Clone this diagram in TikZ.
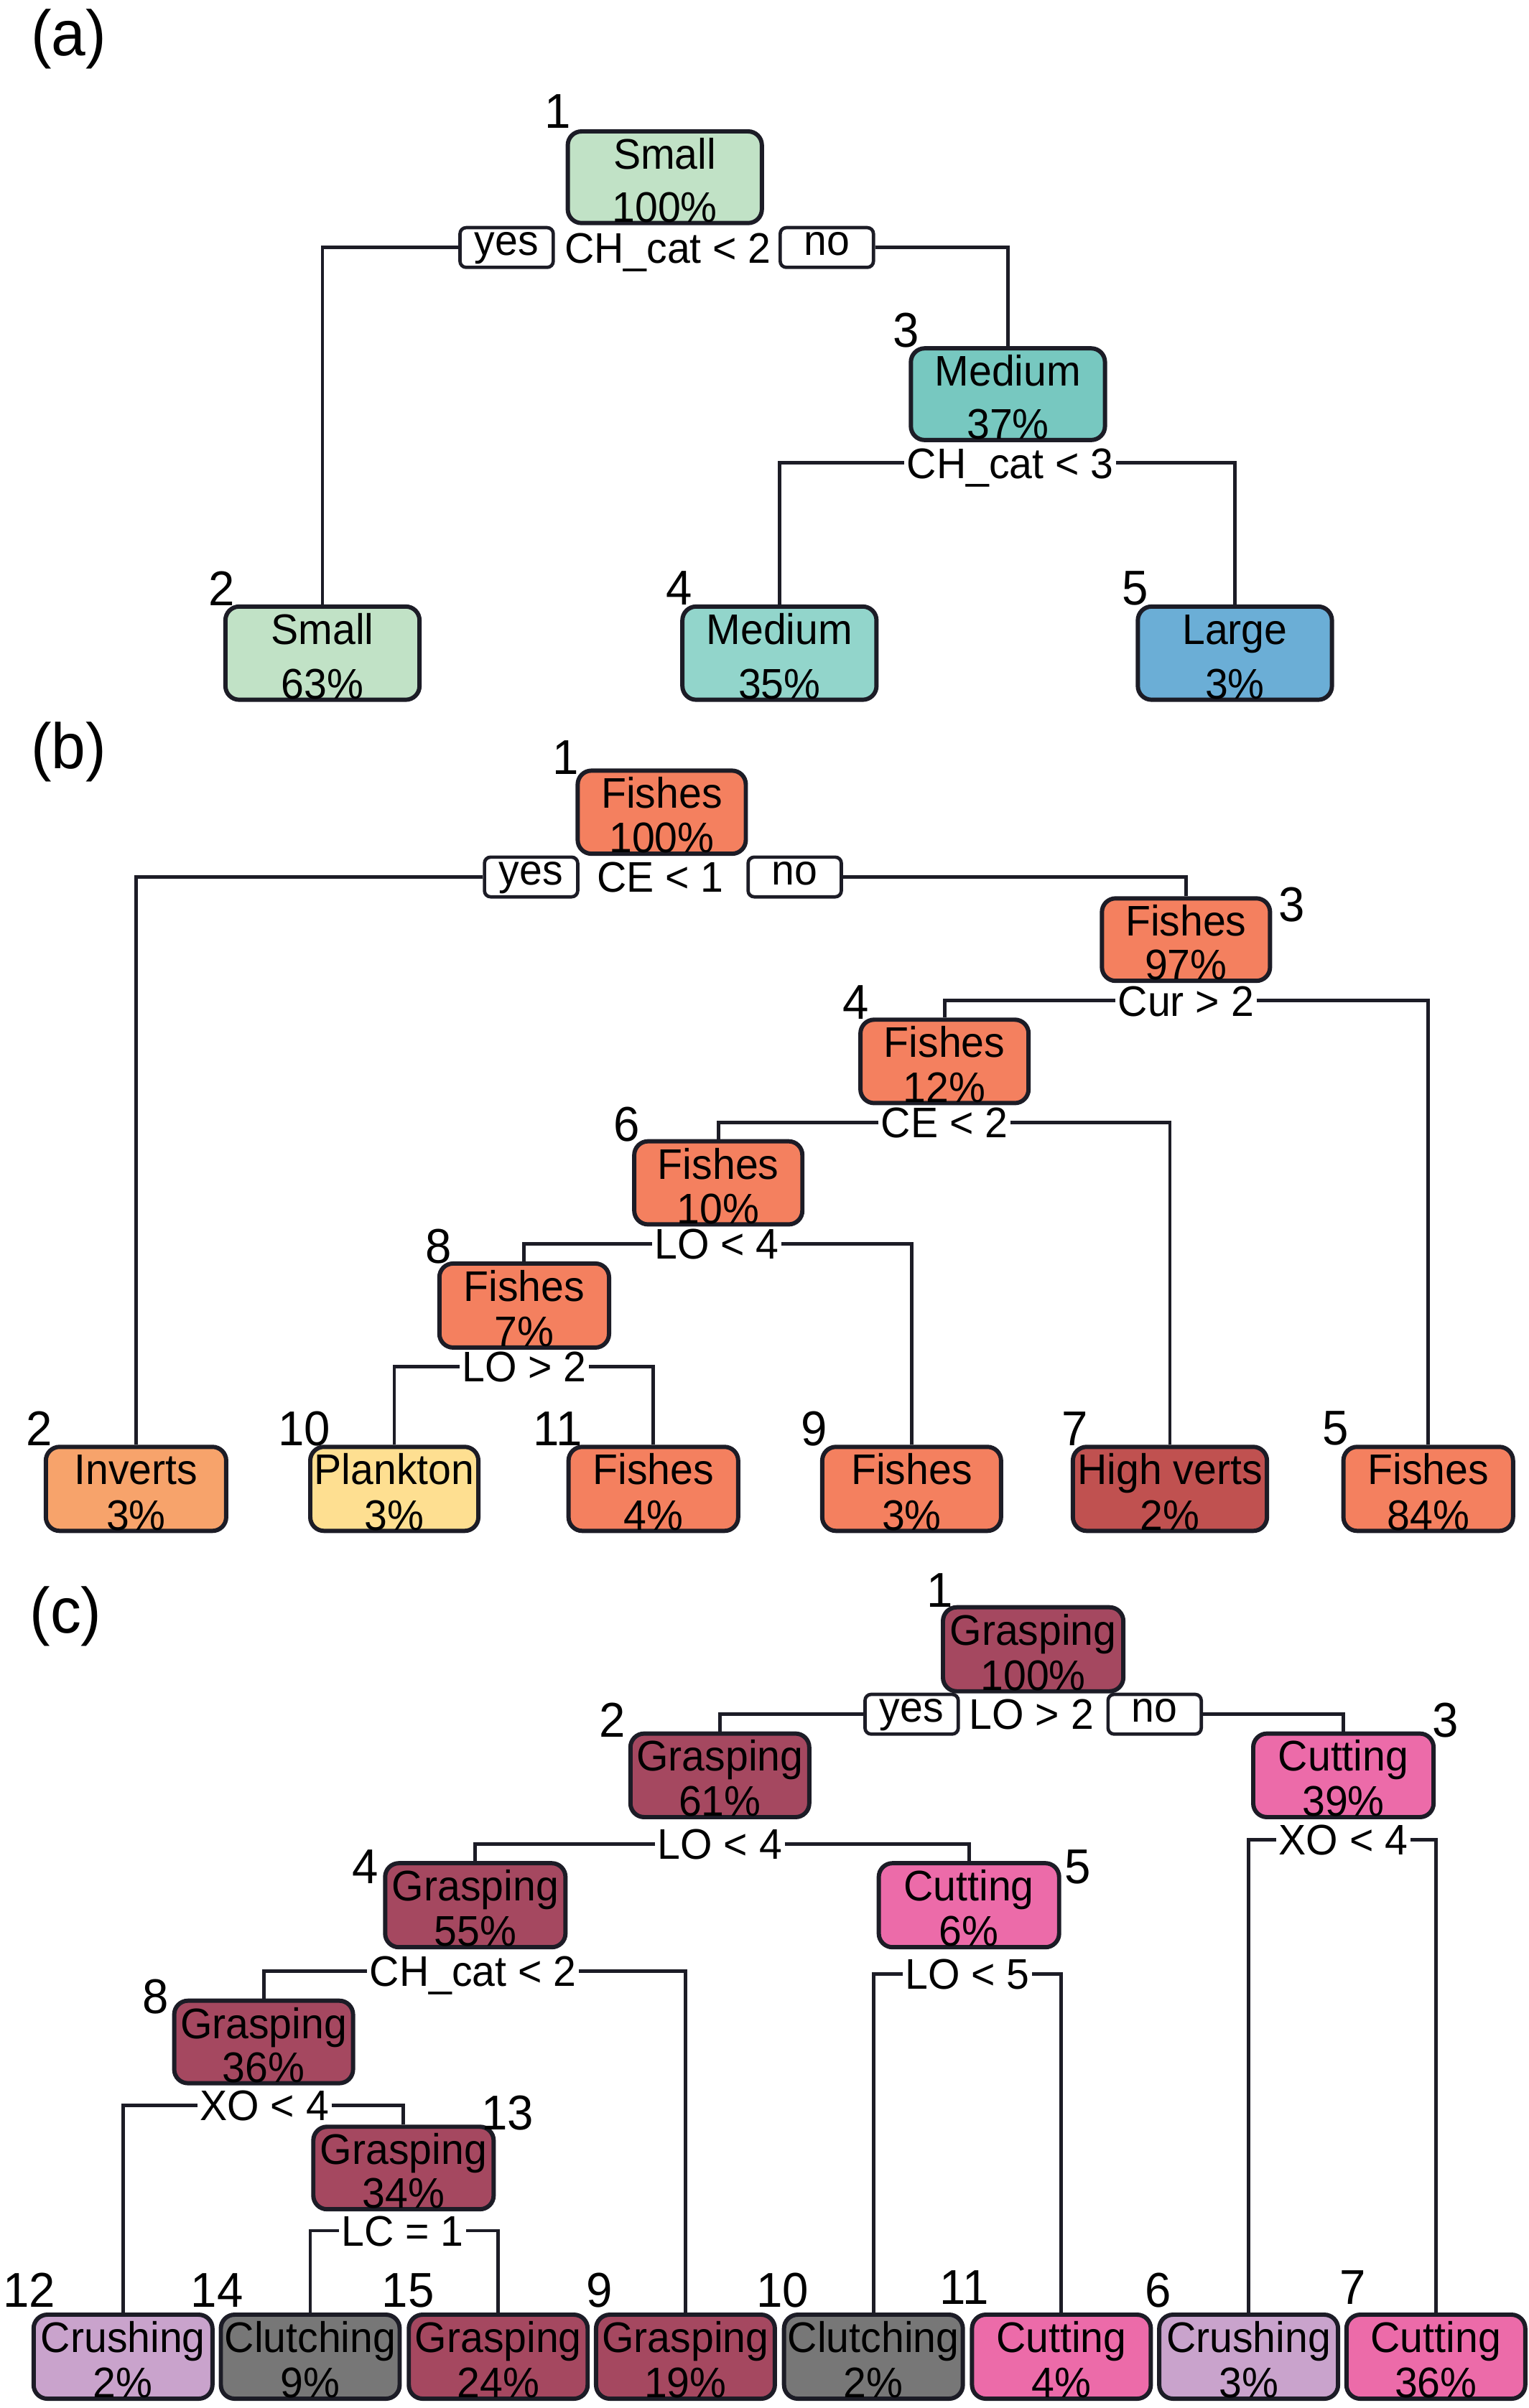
\documentclass[tikz,border=0pt]{standalone}
\usepackage{fontspec}
\newfontfamily\arl[FakeStretch=0.96]{Liberation Sans}
\definecolor{bcol}{HTML}{1C1C26}
\definecolor{cSmall}{HTML}{C1E2C6}
\definecolor{cMedA}{HTML}{77C8C0}
\definecolor{cMedB}{HTML}{92D5CB}
\definecolor{cLarge}{HTML}{6BAED6}
\definecolor{cFish}{HTML}{F4805F}
\definecolor{cInv}{HTML}{F7A36B}
\definecolor{cPlank}{HTML}{FEDF91}
\definecolor{cHigh}{HTML}{C05150}
\definecolor{cGrasp}{HTML}{A54860}
\definecolor{cCut}{HTML}{EC6BA9}
\definecolor{cCrush}{HTML}{C9A3CC}
\definecolor{cClutch}{HTML}{777777}
\tikzset{
 tbox/.style={draw=bcol, line width=2.8pt, rounded corners=9pt, inner sep=0pt},
 boxtxt/.style={font=\arl\fontsize{28}{30}\selectfont, inner sep=0pt, text=black},
 numtxt/.style={font=\arl\fontsize{32}{34}\selectfont, inner sep=0pt},
 ptxt/.style={font=\arl\fontsize{42}{44}\selectfont, inner sep=0pt},
 splab/.style={font=\arl\fontsize{28}{30}\selectfont, inner xsep=1.5pt, inner ysep=0pt, text height=20pt, text depth=0pt},
 yn/.style={draw=bcol, line width=2.2pt, rounded corners=4pt, fill=white, font=\arl\fontsize{28}{30}\selectfont, minimum width=61pt, minimum height=26pt, inner sep=0pt, text height=14pt, text depth=4pt},
 conn/.style={draw=bcol, line width=2.3pt},
}
% name, x, y, w, h, colour, line1, line2
\newcommand{\tnode}[8]{%
 \node[tbox, fill=#6, minimum width=#4pt, minimum height=#5pt,
   label={[boxtxt, anchor=base, yshift=-26pt]north:#7},
   label={[boxtxt, anchor=base, yshift=2pt]south:#8}] (#1) at (#2,#3) {};}
\begin{document}
\begin{tikzpicture}[x=1pt,y=-1pt]
\useasboundingbox[fill=white] (0,0) rectangle (1000,1576.1);

% ---------------- (a)
\node[ptxt] (alab) at (45,25.5) {(a)};
\tnode{a1}{435}{116}{127}{60}{cSmall}{Small}{100\%}
\tnode{a3}{659.5}{258}{127}{60}{cMedA}{Medium}{37\%}
\tnode{a2}{211}{427.5}{127}{61}{cSmall}{Small}{63\%}
\tnode{a4}{510}{427.5}{127}{61}{cMedB}{Medium}{35\%}
\tnode{a5}{808}{427.5}{127}{61}{cLarge}{Large}{3\%}
\node[numtxt] (a1n) at (365,73) {1};
\node[numtxt] (a3n) at (593,216) {3};
\node[numtxt] (a2n) at (145,385) {2};
\node[numtxt] (a4n) at (444.5,385) {4};
\node[numtxt] (a5n) at (743,385) {5};
\node[yn] (ayes) at (331.5,162) {yes};
\node[splab] (a1s) at (437,162) {CH\_cat < 2};
\node[yn] (ano) at (541,162) {no};
\node[splab] (a3s) at (661,303) {CH\_cat < 3};
\draw[conn] (ayes.west) -| (a2.north);
\draw[conn] (ano.east) -| (a3.north);
\draw[conn] (a3s.west) -| (a4.north);
\draw[conn] (a3s.east) -| (a5.north);

% ---------------- (b)
\node[ptxt] (blab) at (45,492) {(b)};
\tnode{b1}{433}{531.6}{110}{54.4}{cFish}{Fishes}{100\%}
\tnode{b3}{776}{615}{110}{54}{cFish}{Fishes}{97\%}
\tnode{b4}{618}{694.7}{110}{54.6}{cFish}{Fishes}{12\%}
\tnode{b6}{470}{774.2}{110}{54.4}{cFish}{Fishes}{10\%}
\tnode{b8}{343}{854.5}{111}{55}{cFish}{Fishes}{7\%}
\tnode{b2}{89}{974.5}{118}{55}{cInv}{Inverts}{3\%}
\tnode{b10}{258}{974.5}{110}{55}{cPlank}{Plankton}{3\%}
\tnode{b11}{427.5}{974.5}{111}{55}{cFish}{Fishes}{4\%}
\tnode{b9}{596.5}{974.5}{117}{55}{cFish}{Fishes}{3\%}
\tnode{b7}{765.5}{974.5}{127}{55}{cHigh}{High verts}{2\%}
\tnode{b5}{934.5}{974.5}{111}{55}{cFish}{Fishes}{84\%}
\node[numtxt] (b1n) at (370,495.7) {1};
\node[numtxt] (b3n) at (845,592) {3};
\node[numtxt] (b4n) at (560,656) {4};
\node[numtxt] (b6n) at (410,736) {6};
\node[numtxt] (b8n) at (287,815.6) {8};
\node[numtxt] (b2n) at (25.5,935) {2};
\node[numtxt] (b10n) at (199,935) {10};
\node[numtxt] (b11n) at (365,935) {11};
\node[numtxt] (b9n) at (532.5,935) {9};
\node[numtxt] (b7n) at (703.5,935) {7};
\node[numtxt] (b5n) at (874,935) {5};
\node[yn] (byes) at (347.5,574) {yes};
\node[splab] (b1s) at (432,574) {CE < 1};
\node[yn] (bno) at (520,574) {no};
\node[splab] (b3s) at (776,655) {Cur > 2};
\node[splab] (b4s) at (618,734.6) {CE < 2};
\node[splab] (b6s) at (469,814) {LO < 4};
\node[splab] (b8s) at (343,894.5) {LO > 2};
\draw[conn] (byes.west) -| (b2.north);
\draw[conn] (bno.east) -| (b3.north);
\draw[conn] (b3s.west) -| (b4.north);
\draw[conn] (b3s.east) -| (b5.north);
\draw[conn] (b4s.west) -| (b6.north);
\draw[conn] (b4s.east) -| (b7.north);
\draw[conn] (b6s.west) -| (b8.north);
\draw[conn] (b6s.east) -| (b9.north);
\draw[conn] (b8s.west) -| (b10.north);
\draw[conn] (b8s.east) -| (b11.north);

% ---------------- (c)
\node[ptxt] (clab) at (43,1058) {(c)};
\tnode{c1}{676}{1079.5}{118}{55}{cGrasp}{Grasping}{100\%}
\tnode{c2}{471}{1162}{117}{54.7}{cGrasp}{Grasping}{61\%}
\tnode{c3}{879}{1162}{118}{54.7}{cCut}{Cutting}{39\%}
\tnode{c4}{311}{1247}{118}{55}{cGrasp}{Grasping}{55\%}
\tnode{c5}{634}{1247}{118}{55}{cCut}{Cutting}{6\%}
\tnode{c8}{172.5}{1336.5}{117}{54}{cGrasp}{Grasping}{36\%}
\tnode{c13}{264}{1419}{118}{54}{cGrasp}{Grasping}{34\%}
\tnode{c12}{80.5}{1542.5}{117}{55}{cCrush}{Crushing}{2\%}
\tnode{c14}{203}{1542.5}{117}{55}{cClutch}{Clutching}{9\%}
\tnode{c15}{326}{1542.5}{117}{55}{cGrasp}{Grasping}{24\%}
\tnode{c9}{448.5}{1542.5}{117}{55}{cGrasp}{Grasping}{19\%}
\tnode{c10}{571.5}{1542.5}{117}{55}{cClutch}{Clutching}{2\%}
\tnode{c11}{694.5}{1542.5}{117}{55}{cCut}{Cutting}{4\%}
\tnode{c6}{817}{1542.5}{117}{55}{cCrush}{Crushing}{3\%}
\tnode{c7}{939.5}{1542.5}{117}{55}{cCut}{Cutting}{36\%}
\node[numtxt] (c1n) at (615,1041) {1};
\node[numtxt] (c2n) at (400.5,1126) {2};
\node[numtxt] (c3n) at (946,1126) {3};
\node[numtxt] (c4n) at (239,1222) {4};
\node[numtxt] (c5n) at (705,1222) {5};
\node[numtxt] (c8n) at (102,1307) {8};
\node[numtxt] (c13n) at (332,1383) {13};
\node[numtxt] (c12n) at (19,1499) {12};
\node[numtxt] (c14n) at (142,1499) {14};
\node[numtxt] (c15n) at (267,1499) {15};
\node[numtxt] (c9n) at (392,1499) {9};
\node[numtxt] (c10n) at (512,1499) {10};
\node[numtxt] (c11n) at (631,1497) {11};
\node[numtxt] (c6n) at (758,1499) {6};
\node[numtxt] (c7n) at (885,1497) {7};
\node[yn] (cyes) at (596.5,1122) {yes};
\node[splab] (c1s) at (675,1122) {LO > 2};
\node[yn] (cno) at (755.5,1122) {no};
\node[splab] (c2s) at (471,1207) {LO < 4};
\node[splab] (c3s) at (879,1204) {XO < 4};
\node[splab] (c4s) at (309.5,1290) {CH\_cat < 2};
\node[splab] (c5s) at (633,1292) {LO < 5};
\node[splab] (c8s) at (173,1378) {XO < 4};
\node[splab] (c13s) at (263.5,1460) {LC = 1};
\draw[conn] (cyes.west) -| (c2.north);
\draw[conn] (cno.east) -| (c3.north);
\draw[conn] (c2s.west) -| (c4.north);
\draw[conn] (c2s.east) -| (c5.north);
\draw[conn] (c3s.west) -| (c6.north);
\draw[conn] (c3s.east) -| (c7.north);
\draw[conn] (c4s.west) -| (c8.north);
\draw[conn] (c4s.east) -| (c9.north);
\draw[conn] (c5s.west) -| (c10.north);
\draw[conn] (c5s.east) -| (c11.north);
\draw[conn] (c8s.west) -| (c12.north);
\draw[conn] (c8s.east) -| (c13.north);
\draw[conn] (c13s.west) -| (c14.north);
\draw[conn] (c13s.east) -| (c15.north);
\end{tikzpicture}
\end{document}
